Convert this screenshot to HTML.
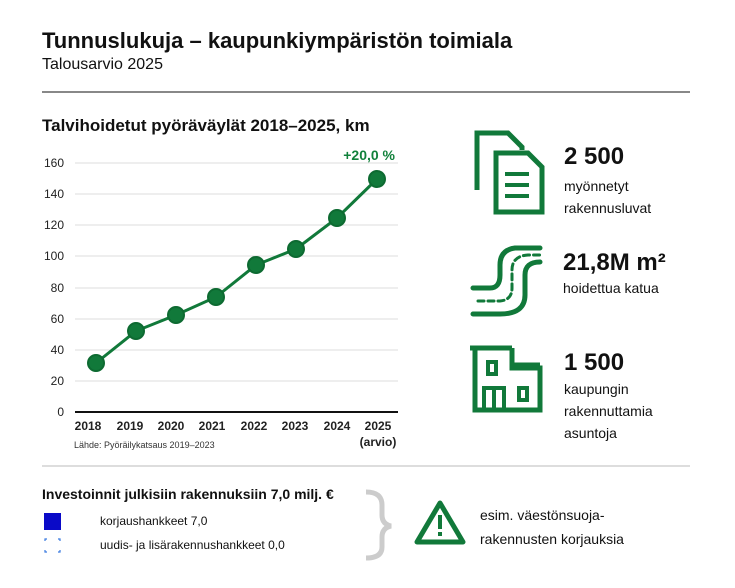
<!DOCTYPE html>
<html><head><meta charset="utf-8"><style>
body{margin:0;background:#fff;font-family:"Liberation Sans",sans-serif;color:#111}
.t{position:absolute;white-space:nowrap}
</style></head><body>
<div style="position:relative;width:735px;height:588px;overflow:hidden">
<div class="t" style="left:42px;top:28px;font-size:22px;font-weight:bold">Tunnuslukuja – kaupunkiympäristön toimiala</div>
<div class="t" style="left:42px;top:56px;font-size:16px">Talousarvio 2025</div>
<div style="position:absolute;left:42px;top:91px;width:648px;height:2px;background:#888"></div>
<div class="t" style="left:42px;top:116px;font-size:17px;font-weight:bold">Talvihoidetut pyöräväylät 2018–2025, km</div>
<svg style="position:absolute;left:0;top:0" width="735" height="588">
<g stroke="#ddd" stroke-width="1">
<line x1="75" x2="398" y1="163" y2="163"/><line x1="75" x2="398" y1="194" y2="194"/><line x1="75" x2="398" y1="225" y2="225"/><line x1="75" x2="398" y1="256" y2="256"/><line x1="75" x2="398" y1="288" y2="288"/><line x1="75" x2="398" y1="319" y2="319"/><line x1="75" x2="398" y1="350" y2="350"/><line x1="75" x2="398" y1="381" y2="381"/>
</g>
<line x1="75" x2="398" y1="412" y2="412" stroke="#111" stroke-width="2"/>
<g font-size="12" fill="#222" text-anchor="end" font-family="Liberation Sans">
<text x="64" y="167">160</text><text x="64" y="198">140</text><text x="64" y="229">120</text><text x="64" y="260">100</text><text x="64" y="292">80</text><text x="64" y="323">60</text><text x="64" y="354">40</text><text x="64" y="385">20</text><text x="64" y="416">0</text>
</g>
<g font-size="12" font-weight="bold" fill="#222" text-anchor="middle" font-family="Liberation Sans">
<text x="88" y="430">2018</text><text x="130" y="430">2019</text><text x="171" y="430">2020</text><text x="212" y="430">2021</text><text x="254" y="430">2022</text><text x="295" y="430">2023</text><text x="337" y="430">2024</text><text x="378" y="430">2025</text><text x="378" y="446">(arvio)</text>
</g>
<text x="74" y="448" font-size="9" fill="#333" font-family="Liberation Sans">Lähde: Pyöräilykatsaus 2019–2023</text>
<text x="395" y="160" font-size="14" font-weight="bold" fill="#11813b" text-anchor="end" font-family="Liberation Sans">+20,0 %</text>
<polyline fill="none" stroke="#11793a" stroke-width="3" points="96,363 136,331 176,315 216,297 256,265 296,249 337,218 377,179"/>
<g fill="#11793a" stroke="#0d6a31" stroke-width="2">
<circle cx="96" cy="363" r="8"/><circle cx="136" cy="331" r="8"/><circle cx="176" cy="315" r="8"/><circle cx="216" cy="297" r="8"/><circle cx="256" cy="265" r="8"/><circle cx="296" cy="249" r="8"/><circle cx="337" cy="218" r="8"/><circle cx="377" cy="179" r="8"/>
</g>
<g fill="none" stroke="#11793a" stroke-width="5">
<path d="M477 190 V133 H508 L522 147 V150"/>
<path d="M496 153 H528 L542 167 V212 H496 Z"/>
</g>
<g fill="#11793a"><rect x="505" y="172" width="24" height="4"/><rect x="505" y="183" width="24" height="4"/><rect x="505" y="194" width="24" height="4"/></g>
<g fill="none" stroke="#11793a" stroke-linecap="round">
<path d="M473 288 H490 Q500 288 500 275 V265 Q500 250 515 248 H540" stroke-width="5"/>
<path d="M473 314 H500 Q525 314 525 295 V275 Q525 262 540 262" stroke-width="5"/>
<path d="M478 301 H500 Q512 300 512 288 V270 Q512 256 528 255 H540" stroke-width="3" stroke-dasharray="6 4"/>
</g>
<g fill="none" stroke="#11793a" stroke-width="5">
<path d="M470 348 H512"/><path d="M475 348 V410 H540 V368 H512 V348"/><path d="M512 365 H540"/>
<rect x="488" y="362" width="8" height="12" stroke-width="4"/>
<rect x="519" y="388" width="8" height="12" stroke-width="4"/>
<path d="M484 410 V388 H504 V410 M494 388 V410" stroke-width="4"/>
</g>
<line x1="42" x2="690" y1="466" y2="466" stroke="#ddd" stroke-width="2"/>
<path d="M366 492 Q382 492 382 505 V515 Q382 524 391 526 Q382 528 382 537 V547 Q382 558 366 558" fill="none" stroke="#ccc" stroke-width="5"/>
<path d="M440 503 L463 542 H417 Z" fill="none" stroke="#11793a" stroke-width="5" stroke-linejoin="round"/>
<rect x="438" y="515" width="4" height="14" fill="#11793a"/><rect x="438" y="532" width="4" height="4" fill="#11793a"/>
<rect x="44" y="513" width="17" height="17" fill="#0a0ac8"/>
<g stroke="#3a7ae0" stroke-width="1.2" fill="none">
<path d="M45 541 v-2 h2 M58 539 h2 v2 M45 550 v2 h2 M58 552 h2 v-2"/>
</g>
</svg>
<div class="t" style="left:564px;top:143px;font-size:24px;font-weight:bold">2 500</div>
<div class="t" style="left:564px;top:175px;font-size:14px;line-height:22px">myönnetyt<br>rakennusluvat</div>
<div class="t" style="left:563px;top:249px;font-size:24px;font-weight:bold">21,8M m²</div>
<div class="t" style="left:563px;top:280px;font-size:14px">hoidettua katua</div>
<div class="t" style="left:564px;top:349px;font-size:24px;font-weight:bold">1 500</div>
<div class="t" style="left:564px;top:378px;font-size:14px;line-height:22px">kaupungin<br>rakennuttamia<br>asuntoja</div>
<div class="t" style="left:42px;top:486px;font-size:14px;font-weight:bold">Investoinnit julkisiin rakennuksiin 7,0 milj. €</div>
<div class="t" style="left:100px;top:514px;font-size:12px">korjaushankkeet 7,0</div>
<div class="t" style="left:100px;top:538px;font-size:12px">uudis- ja lisärakennushankkeet 0,0</div>
<div class="t" style="left:480px;top:503px;font-size:14px;line-height:24px">esim. väestönsuoja-<br>rakennusten korjauksia</div>
</div>
</body></html>
